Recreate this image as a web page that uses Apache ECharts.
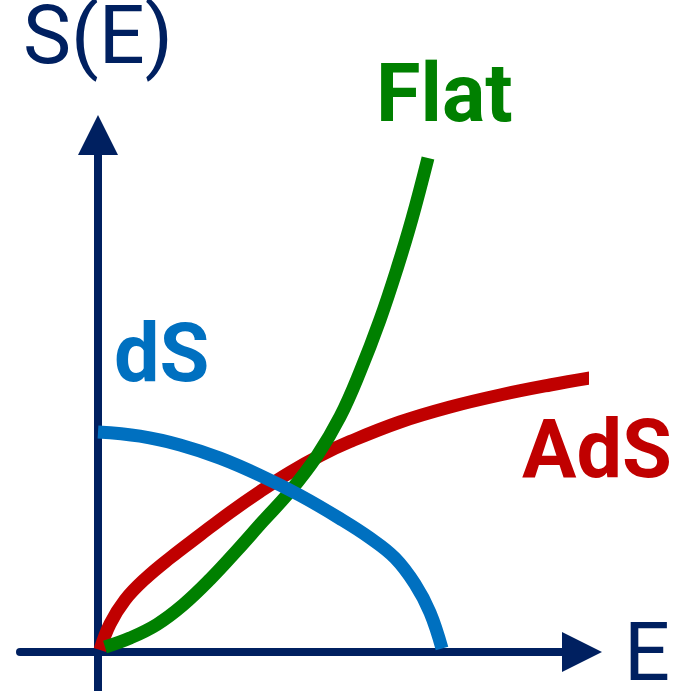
<!DOCTYPE html>
<html>
<head>
<meta charset="utf-8">
<title>S(E)</title>
<script src="https://cdn.jsdelivr.net/npm/echarts@6/dist/echarts.min.js"></script>
<style>
  html, body { margin: 0; padding: 0; background: #ffffff; }
  #chart { width: 685px; height: 691px; }
</style>
</head>
<body>
<div id="chart"></div>
<script>
// Entropy S as a function of energy E, sketched for three spacetimes.
// AdS: steep start, then a slow, flattening growth
const adsE = [0.05, 0.3, 0.675, 1.175, 1.8, 2.55, 3.3, 4.05, 4.8, 5.55, 6.3, 7.55, 8.8, 10.05, 11.3, 12.3];
const adsS = [0.05, 0.7, 1.3, 1.825, 2.35, 2.925, 3.49, 4.01, 4.49, 4.91, 5.26, 5.75, 6.125, 6.425, 6.675, 6.85];
// Flat: slow start, then an ever steeper rise
const flatE = [0.175, 0.8, 1.475, 2.125, 2.8, 3.475, 4.125, 4.8, 5.475, 6.05, 6.55, 7.05, 7.475, 7.85, 8.25];
const flatS = [0.125, 0.35, 0.69, 1.175, 1.815, 2.54, 3.27, 4.015, 4.905, 5.88, 7.005, 8.305, 9.58, 10.83, 12.35];
// dS: finite at E = 0, falling to zero at the maximal energy
const dsE = [0, 1.05, 2.05, 3.05, 4.05, 5.05, 6.05, 6.8, 7.425, 7.925, 8.3, 8.6];
const dsS = [5.5, 5.395, 5.175, 4.845, 4.415, 3.915, 3.335, 2.85, 2.35, 1.7, 0.99, 0.09];

const axisName = { x: 'E', y: 'S(E)' };
const curveNames = ['AdS', 'Flat', 'dS'];

const NAVY = '#002060';
const COLORS = { AdS: '#C00000', Flat: '#008000', dS: '#0070C0' };
const FONT = 'Roboto, "Liberation Sans", Arial, sans-serif';

const zip = (xs, ys) => xs.map((x, i) => [x, ys[i]]);

const chart = echarts.init(document.getElementById('chart'), null, { renderer: 'canvas' });

const axisCommon = {
  type: 'value',
  splitLine: { show: false },
  axisTick: { show: false },
  axisLabel: { show: false },
  axisLine: {
    show: true,
    onZero: true,
    symbol: ['none', 'triangle'],
    symbolSize: [40, 40],
    lineStyle: { color: NAVY, width: 8 }
  },
  nameTextStyle: { color: NAVY, fontFamily: FONT, fontSize: 81 }
};

function curve(name, data) {
  return {
    name: name,
    type: 'line',
    data: data,
    smooth: 0.4,
    showSymbol: false,
    clip: false,
    silent: true,
    lineStyle: { color: COLORS[name], width: 13, cap: 'butt' }
  };
}

chart.setOption({
  animation: false,
  grid: { left: 20, right: 103, top: 135, bottom: 0, containLabel: false },
  xAxis: Object.assign({}, axisCommon, {
    min: -1.95, max: 12.1
  }),
  yAxis: Object.assign({}, axisCommon, {
    min: -0.975, max: 12.925,
    name: axisName.y, nameLocation: 'end', nameGap: 52
  }),
  series: [
    curve(curveNames[0], zip(adsE, adsS)),
    curve(curveNames[1], zip(flatE, flatS)),
    curve(curveNames[2], zip(dsE, dsS))
  ],
  graphic: [
    { type: 'text', left: 624, top: 619, style: { text: axisName.x, fill: NAVY, font: '81px ' + FONT } },
    { type: 'text', left: 376, top: 60, style: { text: 'Flat', fill: COLORS.Flat, font: 'bold 81px ' + FONT } },
    { type: 'text', left: 114, top: 320, style: { text: 'dS', fill: COLORS.dS, font: 'bold 81px ' + FONT } },
    { type: 'text', left: 522, top: 416, style: { text: 'AdS', fill: COLORS.AdS, font: 'bold 81px ' + FONT } }
  ]
});
</script>
</body>
</html>
